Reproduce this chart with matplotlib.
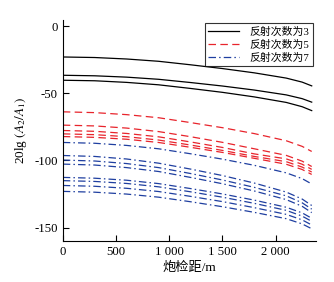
import numpy as np
import matplotlib
matplotlib.use("Agg")
import matplotlib.pyplot as plt

plt.rcParams['font.family'] = ['Liberation Serif', 'Noto Sans CJK SC']
plt.rcParams['mathtext.fontset'] = 'stix'

# offset distance (m)
offset = [0, 300, 600, 900, 1200, 1500, 1800, 2100, 2250, 2340]

# reflection count 3 (black)
refl3_a = [-23.0, -23.4, -24.5, -26.2, -28.8, -31.6, -34.8, -38.7, -41.7, -44.5]
refl3_b = [-36.6, -37.0, -38.0, -39.6, -42.0, -44.6, -47.6, -51.2, -54.0, -56.6]
refl3_c = [-40.3, -40.7, -41.9, -43.7, -46.4, -49.3, -52.7, -56.8, -60.0, -62.9]

# reflection count 5 (red)
refl5_a = [-63.8, -64.4, -65.9, -68.2, -71.8, -75.6, -80.0, -85.3, -89.5, -93.3]
refl5_b = [-73.7, -74.3, -75.9, -78.5, -82.3, -86.5, -91.3, -96.2, -100.5, -104.5]
refl5_c = [-77.7, -78.3, -79.9, -82.4, -86.2, -90.3, -95.1, -98.8, -102.8, -106.6]
refl5_d = [-80.2, -80.8, -82.3, -84.8, -88.5, -92.5, -97.0, -100.9, -104.9, -108.6]
refl5_e = [-82.2, -82.8, -84.2, -86.6, -90.2, -94.0, -98.4, -102.8, -106.7, -110.4]

# reflection count 7 (blue)
refl7_a = [-86.6, -87.2, -88.8, -91.3, -95.0, -99.0, -103.6, -109.2, -113.5, -117.5]
refl7_b = [-96.3, -97.0, -98.9, -102.0, -106.4, -111.2, -116.8, -123.5, -128.7, -133.5]
refl7_c = [-99.7, -100.4, -102.3, -105.3, -109.7, -114.5, -120.0, -126.3, -131.5, -136.2]
refl7_d = [-102.7, -103.4, -105.3, -108.2, -112.6, -117.3, -122.7, -129.1, -134.1, -138.8]
refl7_e = [-112.6, -113.2, -114.7, -117.2, -120.9, -124.9, -129.5, -134.8, -139.0, -143.0]
refl7_f = [-115.0, -115.6, -117.1, -119.6, -123.3, -127.3, -131.9, -137.1, -141.4, -145.3]
refl7_g = [-118.6, -119.2, -120.7, -123.1, -126.7, -130.6, -135.1, -140.1, -144.2, -148.0]
refl7_h = [-123.0, -123.6, -125.0, -127.3, -130.7, -134.4, -138.6, -143.3, -147.2, -150.8]

fig = plt.figure(figsize=(3.34, 2.82), dpi=100)
ax = fig.add_axes([0.188, 0.145, 0.758, 0.784])

lw = 0.9
for i, ys in enumerate([refl3_a, refl3_b, refl3_c]):
    ax.plot(offset, ys, color='black', lw=lw, ls='-',
            label='反射次数为3' if i == 0 else None)
for i, ys in enumerate([refl5_a, refl5_b, refl5_c, refl5_d, refl5_e]):
    ax.plot(offset, ys, color='#e8242c', lw=lw, ls=(0, (6, 3.5)),
            label='反射次数为5' if i == 0 else None)
for i, ys in enumerate([refl7_a, refl7_b, refl7_c, refl7_d, refl7_e, refl7_f, refl7_g, refl7_h]):
    ax.plot(offset, ys, color='#1f3fa0', lw=lw, ls=(0, (6, 2.5, 1.2, 2.5)),
            label='反射次数为7' if i == 0 else None)

ax.set_xlim(0, 2380)
ax.set_ylim(-160, 4.5)
ax.set_xticks([0, 500, 1000, 1500, 2000])
ax.set_xticklabels(['0', '500', '1 000', '1 500', '2 000'])
ax.set_yticks([0, -50, -100, -150])
ax.set_yticklabels(['0', '-50', '-100', '-150'])
ax.tick_params(direction='in', length=4, width=0.8, labelsize=9.2)
ax.spines['top'].set_visible(False)
ax.spines['right'].set_visible(False)
for s in ['left', 'bottom']:
    ax.spines[s].set_linewidth(0.8)

ax.set_xlabel('炮检距/m', fontsize=9.5, labelpad=3)
ax.set_ylabel(r'20lg $(A_2/A_1)$', fontsize=9.5, labelpad=4)

leg = ax.legend(loc='upper right', fontsize=7.8, frameon=True, fancybox=False,
                edgecolor='black', handlelength=2.8, borderpad=0.3,
                labelspacing=0.25, handletextpad=1.0, borderaxespad=0.3)
leg.get_frame().set_linewidth(0.8)

fig.savefig('out.png', dpi=100)
